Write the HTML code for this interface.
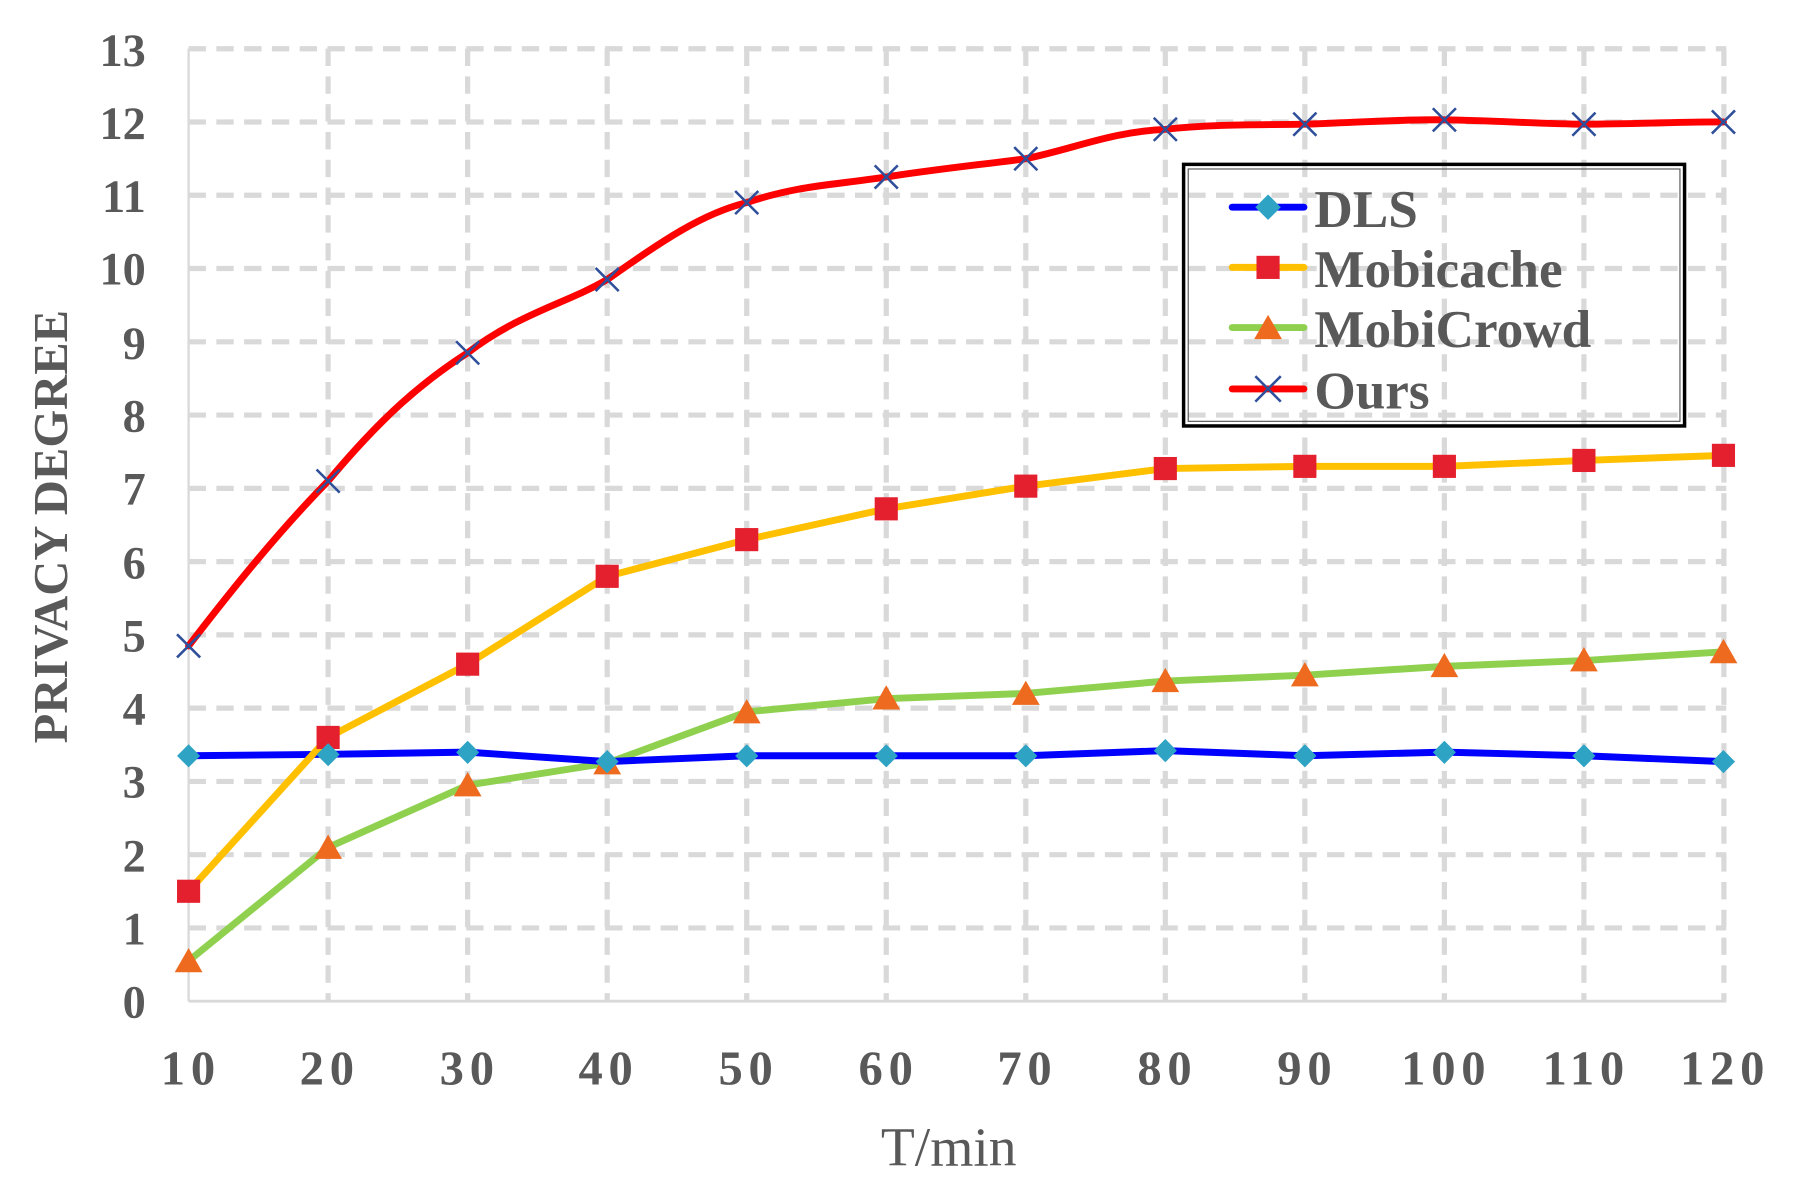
<!DOCTYPE html>
<html><head><meta charset="utf-8"><style>
html,body{margin:0;padding:0;background:#fff;}
svg{display:block;}
text{font-family:"Liberation Serif",serif;fill:#595959;font-weight:bold;}
</style></head><body>
<svg width="1813" height="1198" viewBox="0 0 1567 1035" preserveAspectRatio="none" xmlns="http://www.w3.org/2000/svg">
<g stroke="#d9d9d9" stroke-width="4.5" stroke-dasharray="15 9" fill="none">
<line x1="163" y1="801.7" x2="1492" y2="801.7"/>
<line x1="163" y1="738.4" x2="1492" y2="738.4"/>
<line x1="163" y1="675.1" x2="1492" y2="675.1"/>
<line x1="163" y1="611.8" x2="1492" y2="611.8"/>
<line x1="163" y1="548.5" x2="1492" y2="548.5"/>
<line x1="163" y1="485.2" x2="1492" y2="485.2"/>
<line x1="163" y1="421.9" x2="1492" y2="421.9"/>
<line x1="163" y1="358.6" x2="1492" y2="358.6"/>
<line x1="163" y1="295.3" x2="1492" y2="295.3"/>
<line x1="163" y1="232" x2="1492" y2="232"/>
<line x1="163" y1="168.7" x2="1492" y2="168.7"/>
<line x1="163" y1="105.4" x2="1492" y2="105.4"/>
<line x1="163" y1="42.1" x2="1492" y2="42.1"/>
<line x1="283.6" y1="42" x2="283.6" y2="865"/>
<line x1="404.2" y1="42" x2="404.2" y2="865"/>
<line x1="524.8" y1="42" x2="524.8" y2="865"/>
<line x1="645.4" y1="42" x2="645.4" y2="865"/>
<line x1="766" y1="42" x2="766" y2="865"/>
<line x1="886.6" y1="42" x2="886.6" y2="865"/>
<line x1="1007.2" y1="42" x2="1007.2" y2="865"/>
<line x1="1127.8" y1="42" x2="1127.8" y2="865"/>
<line x1="1248.4" y1="42" x2="1248.4" y2="865"/>
<line x1="1369" y1="42" x2="1369" y2="865"/>
<line x1="1490" y1="42" x2="1490" y2="865"/>
</g>
<line x1="163" y1="42" x2="163" y2="865" stroke="#d9d9d9" stroke-width="2"/>
<line x1="163" y1="865" x2="1492" y2="865" stroke="#d9d9d9" stroke-width="2.5"/>

<g font-size="40" text-anchor="end">
<text x="126" y="879">0</text><text x="126" y="816">1</text><text x="126" y="753">2</text>
<text x="126" y="689">3</text><text x="126" y="626">4</text><text x="126" y="563">5</text>
<text x="126" y="500">6</text><text x="126" y="436">7</text><text x="126" y="373">8</text>
<text x="126" y="310">9</text><text x="126" y="246">10</text><text x="126" y="183">11</text>
<text x="126" y="120">12</text><text x="126" y="57">13</text>
</g>
<g font-size="42" text-anchor="middle" letter-spacing="5">
<text x="165" y="937">10</text><text x="285" y="937">20</text><text x="406" y="937">30</text>
<text x="526" y="937">40</text><text x="647" y="937">50</text><text x="768" y="937">60</text>
<text x="888" y="937">70</text><text x="1009" y="937">80</text><text x="1130" y="937">90</text>
<text x="1250" y="937">100</text><text x="1371" y="937">110</text><text x="1491" y="937">120</text>
</g>
<text x="820" y="1007" font-size="48" text-anchor="middle" style="font-weight:normal">T/min</text>
<text transform="translate(58,455) rotate(-90)" font-size="42" text-anchor="middle">PRIVACY DEGREE</text>

<g fill="none" stroke-width="6" stroke-linejoin="round" stroke-linecap="round">
<polyline stroke="#8fd14f" points="163,830.2 283.6,732.1 404.2,678.3 524.8,659.3 645.4,615 766,603.6 886.6,599.1 1007.2,588.4 1127.8,583.3 1248.4,575.7 1369,570.7 1489.6,563.1"/>
<polyline stroke="#0000ff" points="163,652.9 283.6,651.7 404.2,649.8 524.8,658 645.4,652.9 766,652.9 886.6,652.9 1007.2,648.5 1127.8,652.9 1248.4,649.8 1369,652.9 1489.6,658"/>
<polyline stroke="#ffc000" points="163,770 283.6,637.1 404.2,573.8 524.8,497.9 645.4,466.2 766,439.6 886.6,420 1007.2,404.8 1127.8,402.9 1248.4,402.9 1369,397.8 1489.6,393.4"/>
<path stroke="#ff0000" d="M163,558 C200,510 240,460 283.6,415.6 C330,360 365,330 404.2,304.8 C450,270 490,262 524.8,241.5 C570,210 605,185 645.4,175 C690,160 720,160 766,152.9 C810,146 850,142 886.6,137.1 C930,128 960,114 1007.2,111.7 C1050,107 1090,108 1127.8,107.3 C1170,106 1210,103 1248.4,103.5 C1290,104 1330,107 1369,107.3 C1420,107 1460,105 1489.6,105.4"/>
</g>
<g fill="#e5202e">
<rect x="153" y="760" width="20" height="20"/><rect x="273.6" y="627.1" width="20" height="20"/><rect x="394.2" y="563.8" width="20" height="20"/><rect x="514.8" y="487.9" width="20" height="20"/><rect x="635.4" y="456.2" width="20" height="20"/><rect x="756" y="429.6" width="20" height="20"/><rect x="876.6" y="410" width="20" height="20"/><rect x="997.2" y="394.8" width="20" height="20"/><rect x="1117.8" y="392.9" width="20" height="20"/><rect x="1238.4" y="392.9" width="20" height="20"/><rect x="1359" y="387.8" width="20" height="20"/><rect x="1479.6" y="383.4" width="20" height="20"/>
</g>
<g fill="#ed6a1f">
<polygon points="163,819 151,840 175,840"/><polygon points="283.6,721 271.6,742 295.6,742"/><polygon points="404.2,667 392.2,688 416.2,688"/><polygon points="524.8,648 512.8,669 536.8,669"/><polygon points="645.4,604 633.4,625 657.4,625"/><polygon points="766,592 754,613 778,613"/><polygon points="886.6,588 874.6,609 898.6,609"/><polygon points="1007.2,577 995.2,598 1019.2,598"/><polygon points="1127.8,572 1115.8,593 1139.8,593"/><polygon points="1248.4,564 1236.4,585 1260.4,585"/><polygon points="1369,559 1357,580 1381,580"/><polygon points="1489.6,552 1477.6,573 1501.6,573"/>
</g>
<g fill="#2ea3c4">
<polygon points="163,643 173,653 163,663 153,653"/><polygon points="283.6,642 293.6,652 283.6,662 273.6,652"/><polygon points="404.2,640 414.2,650 404.2,660 394.2,650"/><polygon points="524.8,648 534.8,658 524.8,668 514.8,658"/><polygon points="645.4,643 655.4,653 645.4,663 635.4,653"/><polygon points="766,643 776,653 766,663 756,653"/><polygon points="886.6,643 896.6,653 886.6,663 876.6,653"/><polygon points="1007.2,638.5 1017.2,648.5 1007.2,658.5 997.2,648.5"/><polygon points="1127.8,643 1137.8,653 1127.8,663 1117.8,653"/><polygon points="1248.4,640 1258.4,650 1248.4,660 1238.4,650"/><polygon points="1369,643 1379,653 1369,663 1359,653"/><polygon points="1489.6,648 1499.6,658 1489.6,668 1479.6,658"/>
</g>
<g stroke="#2f4f9a" stroke-width="2.2">
<path d="M153,548 l20,20 m0,-20 l-20,20"/><path d="M273.6,405.6 l20,20 m0,-20 l-20,20"/><path d="M394.2,294.8 l20,20 m0,-20 l-20,20"/><path d="M514.8,231.5 l20,20 m0,-20 l-20,20"/><path d="M635.4,165 l20,20 m0,-20 l-20,20"/><path d="M756,142.9 l20,20 m0,-20 l-20,20"/><path d="M876.6,127.1 l20,20 m0,-20 l-20,20"/><path d="M997.2,101.7 l20,20 m0,-20 l-20,20"/><path d="M1117.8,97.3 l20,20 m0,-20 l-20,20"/><path d="M1238.4,93.5 l20,20 m0,-20 l-20,20"/><path d="M1359,97.3 l20,20 m0,-20 l-20,20"/><path d="M1479.6,95.4 l20,20 m0,-20 l-20,20"/>
</g>

<rect x="1023" y="142" width="433" height="226" fill="none" stroke="#000" stroke-width="3"/>
<rect x="1027" y="146" width="425" height="218" fill="none" stroke="#555" stroke-width="1"/>
<g stroke-width="6" stroke-linecap="round">
<line x1="1065" y1="179" x2="1127" y2="179" stroke="#0000ff"/>
<line x1="1065" y1="231" x2="1127" y2="231" stroke="#ffc000"/>
<line x1="1065" y1="283" x2="1127" y2="283" stroke="#8fd14f"/>
<line x1="1065" y1="336" x2="1127" y2="336" stroke="#ff0000"/>
</g>
<polygon points="1096,168 1107,179 1096,190 1085,179" fill="#2ea3c4"/>
<rect x="1086" y="221" width="20" height="20" fill="#e5202e"/>
<polygon points="1096,272 1084,293 1108,293" fill="#ed6a1f"/>
<path d="M1085,325 l22,22 m0,-22 l-22,22" stroke="#2f4f9a" stroke-width="2.2"/>
<g font-size="46">
<text x="1136" y="196">DLS</text>
<text x="1136" y="248">Mobicache</text>
<text x="1136" y="300">MobiCrowd</text>
<text x="1136" y="353">Ours</text>
</g>
</svg>
</body></html>
